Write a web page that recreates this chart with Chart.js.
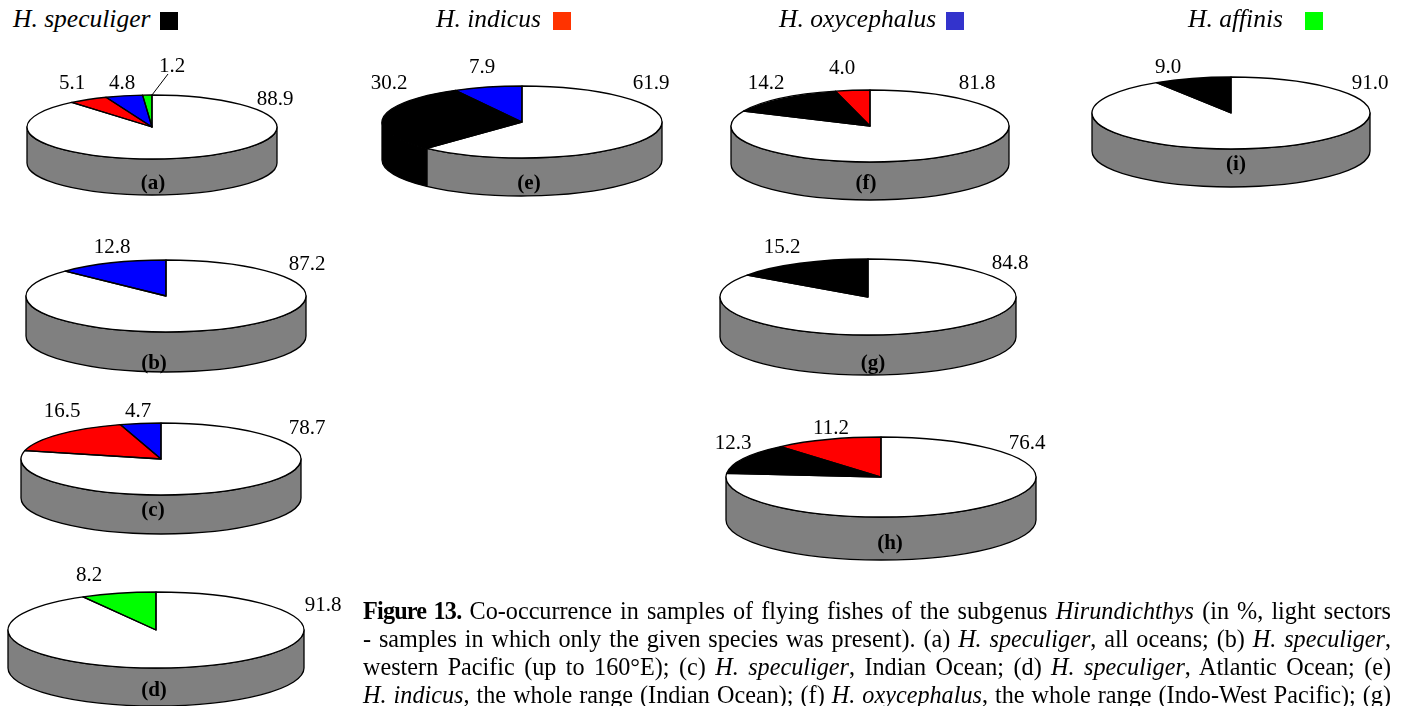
<!DOCTYPE html>
<html>
<head>
<meta charset="utf-8">
<title>Figure 13</title>
<script src="https://cdn.jsdelivr.net/npm/chart.js@4"></script>
<style>
  html, body { margin: 0; padding: 0; background: #fff; overflow: hidden; }
  body { width: 1405px; height: 706px; position: relative; font-family: "Liberation Serif", serif; color: #000; }
  canvas { position: absolute; }
  .txt { position: absolute; white-space: nowrap; transform: translate(-50%, -50%); font-size: 21px; line-height: 1; }
  .head { position: absolute; white-space: nowrap; font-style: italic; font-size: 25.5px; line-height: 1; top: 6px; }
  .swatch { position: absolute; top: 12px; height: 18px; }
  .cap { position: absolute; left: 363px; width: 1028px; font-size: 24.2px; line-height: 1; text-align: justify; text-align-last: justify; }
  .cap b { letter-spacing: -0.8px; }
</style>
</head>
<body>
<script>
// values, clockwise from 12 o'clock, light sector first
const panelA = [88.9, 5.1, 4.8, 1.2];
const panelB = [87.2, 12.8];
const panelC = [78.7, 16.5, 4.7];
const panelD = [91.8, 8.2];
const panelE = [61.9, 30.2, 7.9];
const panelF = [81.8, 14.2, 4.0];
const panelG = [84.8, 15.2];
const panelH = [76.4, 12.3, 11.2];
const panelI = [91.0, 9.0];

const WHITE = '#ffffff', BLACK = '#000000', RED = '#ff0000', BLUE = '#0000ff', GREEN = '#00ff00';
const WALL = '#808080';

const colorsA = [WHITE, RED, BLUE, GREEN];
const colorsB = [WHITE, BLUE];
const colorsC = [WHITE, RED, BLUE];
const colorsD = [WHITE, GREEN];
const colorsE = [WHITE, BLACK, BLUE];
const colorsF = [WHITE, BLACK, RED];
const colorsG = [WHITE, BLACK];
const colorsH = [WHITE, BLACK, RED];
const colorsI = [WHITE, BLACK];

const species = ['H. speculiger', 'H. indicus', 'H. oxycephalus', 'H. affinis'];
const speciesColors = ['#000000', '#ff3300', '#3333cc', '#00ff00'];

// draws the side of the disc, flattens the library's pie, then outlines it
const disc = {
  id: 'disc',
  beforeDatasetsDraw(chart, args, opts) {
    const ctx = chart.ctx;
    const arcs = chart.getDatasetMeta(0).data;
    ctx.lineWidth = 1.3;
    ctx.lineJoin = 'round';
    ctx.strokeStyle = '#000';
    arcs.forEach((arc, i) => {
      const a0 = Math.max(arc.startAngle, 0);
      const a1 = Math.min(arc.endAngle, Math.PI);
      if (a1 <= a0) return;
      const color = chart.data.datasets[0].backgroundColor[i];
      ctx.beginPath();
      ctx.ellipse(arc.x, arc.y, arc.outerRadius, opts.ry, 0, a0, a1);
      ctx.ellipse(arc.x, arc.y + opts.depth, arc.outerRadius, opts.ry, 0, a1, a0, true);
      ctx.closePath();
      ctx.fillStyle = color === WHITE ? WALL : color;
      ctx.fill();
      ctx.stroke();
    });
    const first = arcs[0];
    ctx.save();
    ctx.translate(first.x, first.y);
    ctx.scale(1, opts.ry / first.outerRadius);
    ctx.translate(-first.x, -first.y);
  },
  afterDatasetsDraw(chart, args, opts) {
    const ctx = chart.ctx;
    ctx.restore();
    const arcs = chart.getDatasetMeta(0).data;
    ctx.lineWidth = 1.3;
    ctx.lineJoin = 'round';
    ctx.strokeStyle = '#000';
    arcs.forEach(arc => {
      ctx.beginPath();
      ctx.moveTo(arc.x, arc.y);
      ctx.ellipse(arc.x, arc.y, arc.outerRadius, opts.ry, 0, arc.startAngle, arc.endAngle);
      ctx.closePath();
      ctx.stroke();
    });
    if (opts.leader) {
      // pointer from the end of the thin last sector up to its label
      const arc = arcs[arcs.length - 1];
      const px = arc.x + arc.outerRadius * Math.cos(arc.endAngle);
      const py = arc.y + opts.ry * Math.sin(arc.endAngle);
      ctx.lineWidth = 1;
      ctx.beginPath();
      ctx.moveTo(px, py);
      ctx.lineTo(px + opts.leader[0], py + opts.leader[1]);
      ctx.stroke();
    }
  }
};

function addText(x, y, str, bold) {
  const d = document.createElement('div');
  d.className = 'txt';
  d.style.left = x + 'px';
  d.style.top = y + 'px';
  if (bold) d.style.fontWeight = 'bold';
  d.textContent = str;
  document.body.appendChild(d);
}

function drawPie(p) {
  const w = Math.round(p.rx * 2 + 20);
  const h = Math.round((p.ry + p.depth) * 2 + 20);
  const cv = document.createElement('canvas');
  cv.width = w;
  cv.height = h;
  cv.style.left = (p.cx - w / 2) + 'px';
  cv.style.top = (p.cy - h / 2) + 'px';
  document.body.appendChild(cv);
  new Chart(cv.getContext('2d'), {
    type: 'pie',
    data: {
      labels: p.values.map(v => v.toFixed(1)),
      datasets: [{ data: p.values, backgroundColor: p.colors, borderWidth: 0, clip: false }]
    },
    options: {
      responsive: false,
      animation: false,
      events: [],
      radius: p.rx,
      plugins: {
        legend: { display: false },
        tooltip: { enabled: false },
        disc: { ry: p.ry, depth: p.depth, leader: p.leader }
      }
    },
    plugins: [disc]
  });
  p.values.forEach((v, i) => addText(p.labelAt[i][0], p.labelAt[i][1], v.toFixed(1)));
  addText(p.nameAt[0], p.nameAt[1], p.name, true);
}

const pies = [
  { name: '(a)', values: panelA, colors: colorsA, cx: 152, cy: 127, rx: 125, ry: 32, depth: 36,
    nameAt: [153, 182], labelAt: [[275, 98], [72, 82], [122, 82], [172, 65]], leader: [16, -21] },
  { name: '(b)', values: panelB, colors: colorsB, cx: 166, cy: 296, rx: 140, ry: 36, depth: 40,
    nameAt: [154, 362], labelAt: [[307, 263], [112, 246]] },
  { name: '(c)', values: panelC, colors: colorsC, cx: 161, cy: 459, rx: 140, ry: 36, depth: 39,
    nameAt: [153, 509], labelAt: [[307, 427], [62, 410], [138, 410]] },
  { name: '(d)', values: panelD, colors: colorsD, cx: 156, cy: 630, rx: 148, ry: 38, depth: 38,
    nameAt: [154, 689], labelAt: [[323, 604], [89, 574]] },
  { name: '(e)', values: panelE, colors: colorsE, cx: 522, cy: 122, rx: 140, ry: 36, depth: 38,
    nameAt: [529, 182], labelAt: [[651, 82], [389, 82], [482, 66]] },
  { name: '(f)', values: panelF, colors: colorsF, cx: 870, cy: 126, rx: 139, ry: 36, depth: 38,
    nameAt: [866, 182], labelAt: [[977, 82], [766, 82], [842, 67]] },
  { name: '(g)', values: panelG, colors: colorsG, cx: 868, cy: 297, rx: 148, ry: 38, depth: 40,
    nameAt: [873, 362], labelAt: [[1010, 262], [782, 246]] },
  { name: '(h)', values: panelH, colors: colorsH, cx: 881, cy: 477, rx: 155, ry: 40, depth: 43,
    nameAt: [890, 542], labelAt: [[1027, 442], [733, 442], [831, 427]] },
  { name: '(i)', values: panelI, colors: colorsI, cx: 1231, cy: 113, rx: 139, ry: 36, depth: 38,
    nameAt: [1236, 163], labelAt: [[1370, 82], [1168, 66]] }
];

pies.forEach(drawPie);

// species headings with their colour keys
const headLeft = [13, 436, 779, 1188];
const swatchLeft = [160, 553, 946, 1305];
species.forEach((name, i) => {
  const d = document.createElement('div');
  d.className = 'head';
  d.style.left = headLeft[i] + 'px';
  d.textContent = name;
  document.body.appendChild(d);
  const s = document.createElement('div');
  s.className = 'swatch';
  s.style.left = swatchLeft[i] + 'px';
  s.style.width = '18px';
  s.style.background = speciesColors[i];
  document.body.appendChild(s);
});

// caption, each line fitted to the column
const captionLines = [
  '<b>Figure 13.</b> Co-occurrence in samples of flying fishes of the subgenus <i>Hirundichthys</i> (in %, light sectors',
  '- samples in which only the given species was present). (a) <i>H. speculiger</i>, all oceans; (b) <i>H. speculiger</i>,',
  'western Pacific (up to 160°E); (c) <i>H. speculiger</i>, Indian Ocean; (d) <i>H. speculiger</i>, Atlantic Ocean; (e)',
  '<i>H. indicus</i>, the whole range (Indian Ocean); (f) <i>H. oxycephalus</i>, the whole range (Indo-West Pacific); (g)'
];
captionLines.forEach((line, i) => {
  const d = document.createElement('div');
  d.className = 'cap';
  d.style.top = (599 + i * 28) + 'px';
  d.innerHTML = line;
  document.body.appendChild(d);
});
</script>
</body>
</html>
